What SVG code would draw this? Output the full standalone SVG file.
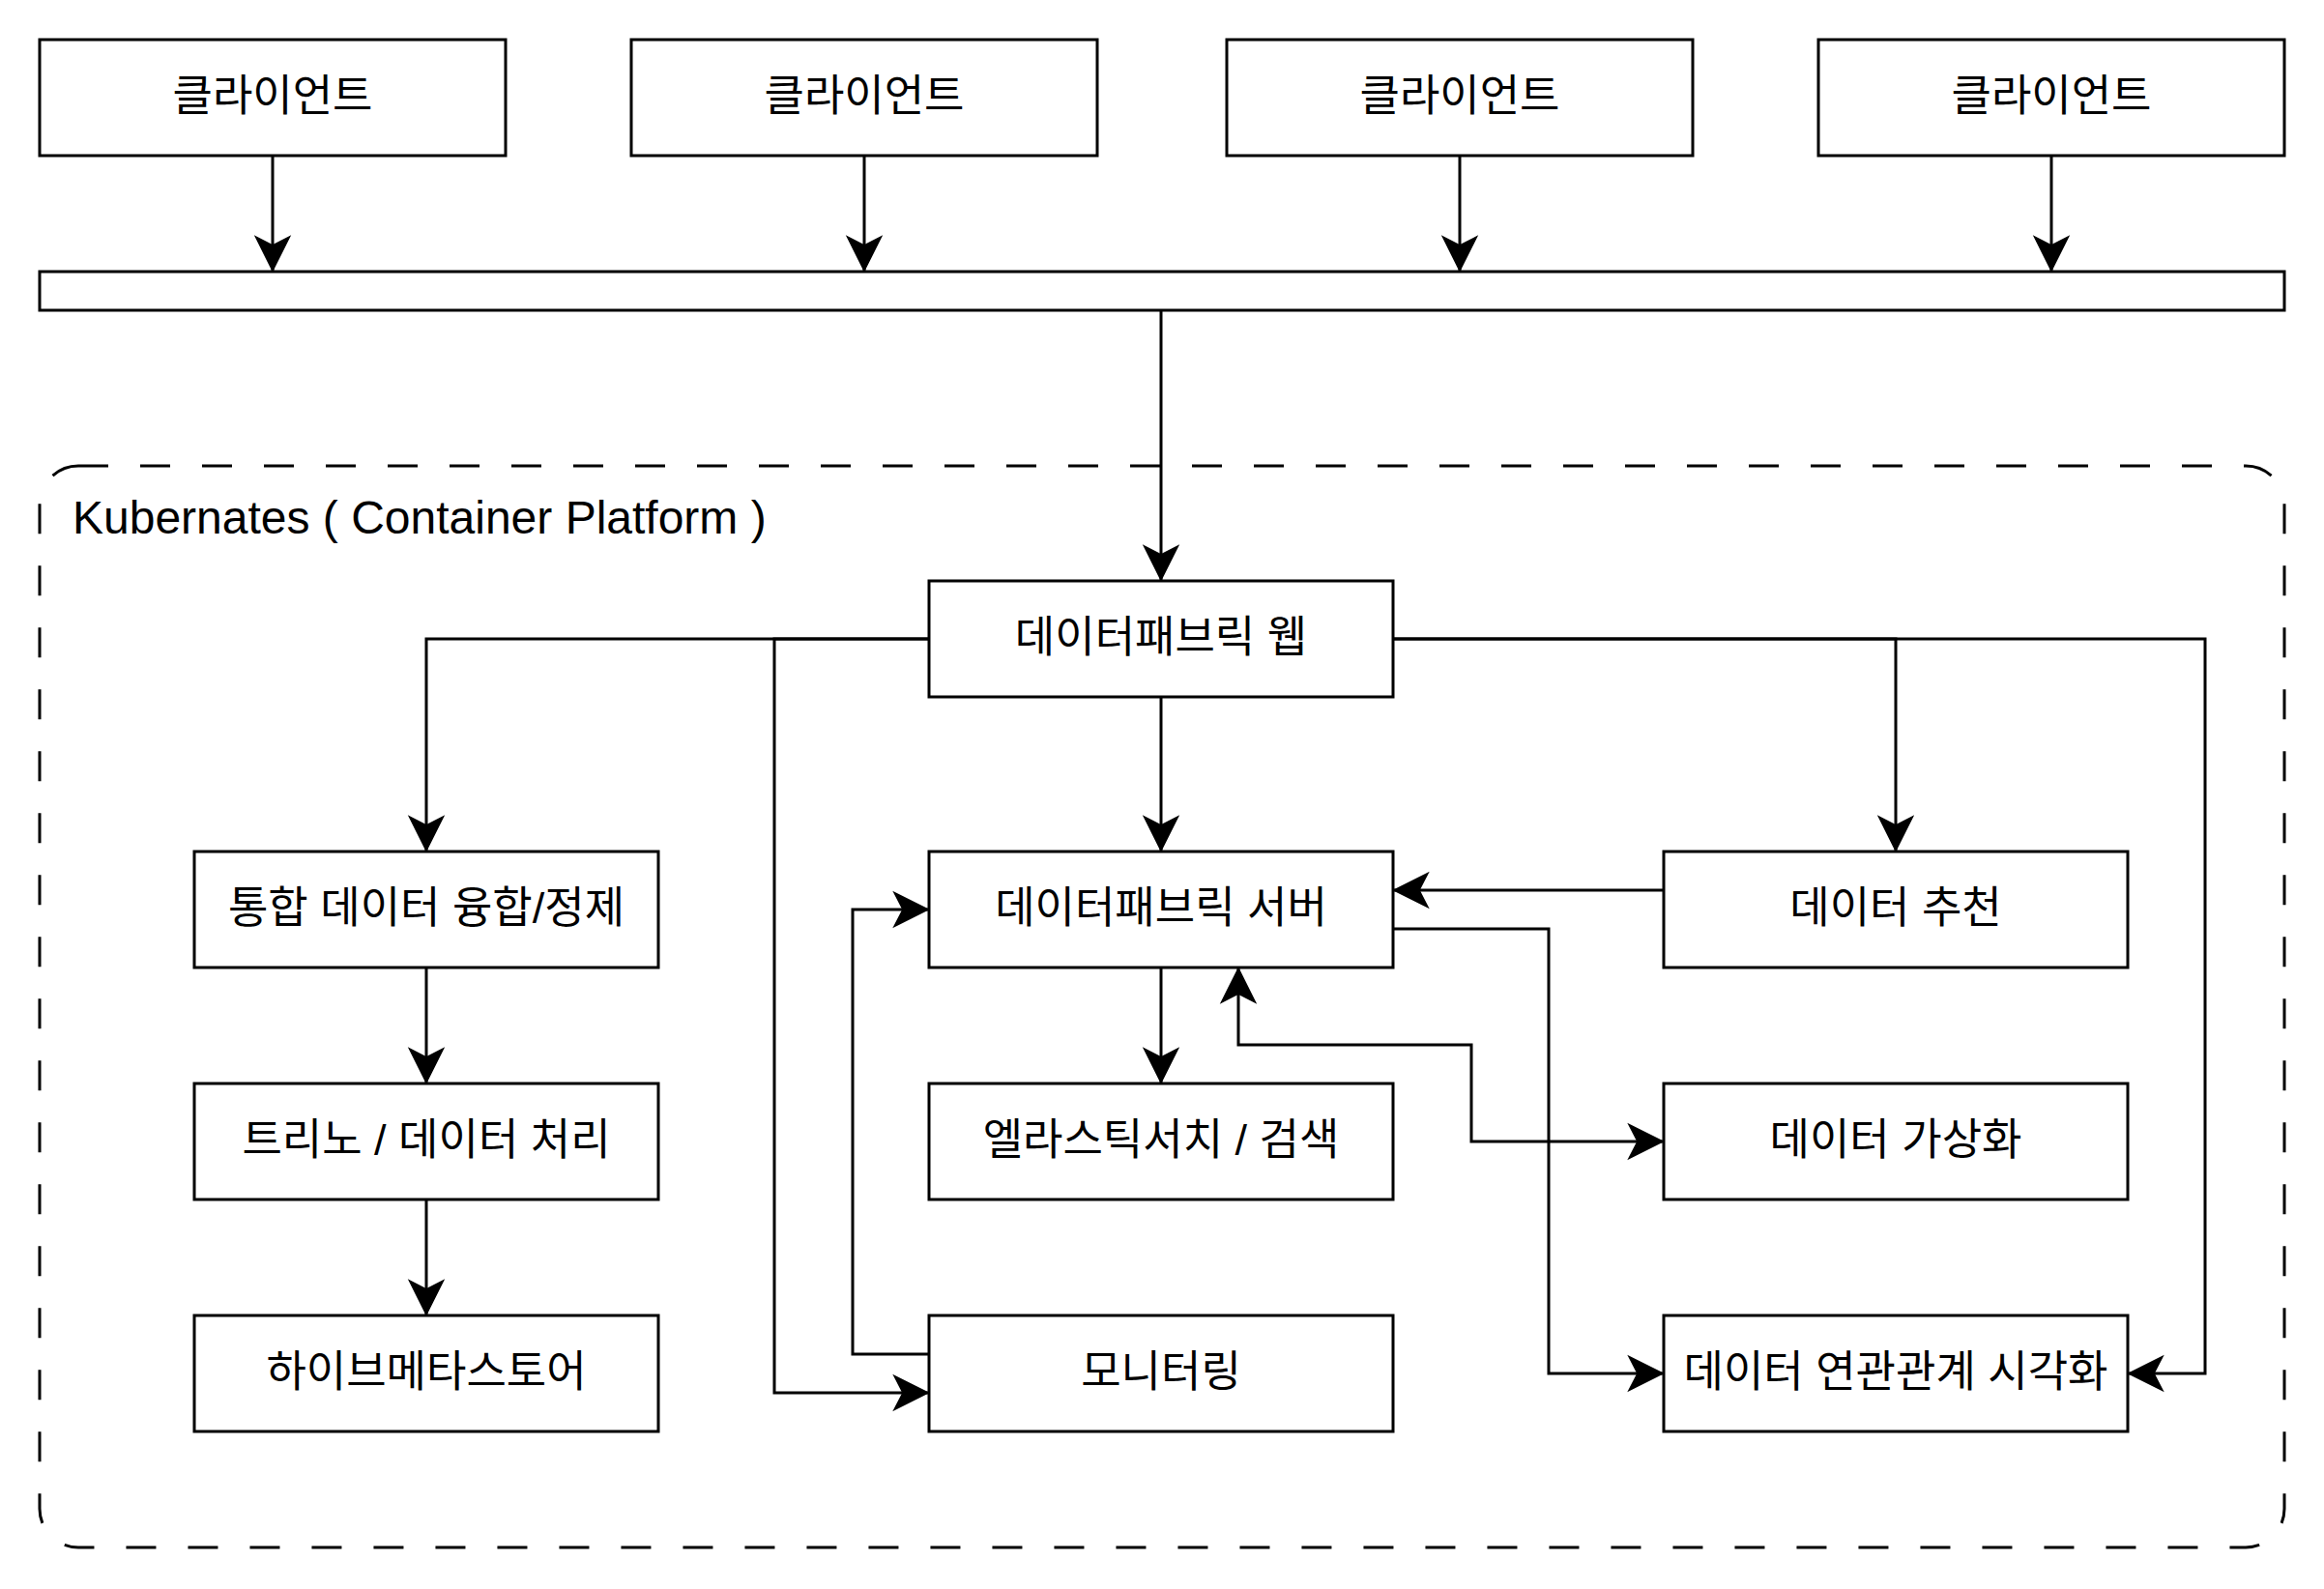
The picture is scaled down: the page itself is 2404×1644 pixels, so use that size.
<svg xmlns="http://www.w3.org/2000/svg" width="2404" height="1644" viewBox="0 0 2404 1644">
<style>
.box{fill:#fff;stroke:#000;stroke-width:3}
.t{font-family:"Liberation Sans","Noto Sans CJK KR",sans-serif;font-size:45px;text-anchor:middle;fill:#000}
.lbl{font-family:"Liberation Sans","Noto Sans CJK KR",sans-serif;font-size:48px;fill:#000}
.c{fill:none;stroke:#000;stroke-width:3}
.a{marker-end:url(#arr)}
.ab{marker-start:url(#arr);marker-end:url(#arr)}
.frame{fill:none;stroke:#000;stroke-width:3;stroke-dasharray:31 33}
</style>
<defs>
<marker id="arr" markerUnits="userSpaceOnUse" markerWidth="40" markerHeight="40" viewBox="-38 -20 40 40" refX="0" refY="0" orient="auto-start-reverse" overflow="visible">
<path d="M0,0 L-35,-17.5 L-26,0 L-35,17.5 Z" fill="#000" stroke="#000" stroke-width="1.5" stroke-linejoin="miter"/>
</marker>
</defs>
<rect width="2404" height="1644" fill="#fff"/>
<g id="container">
<rect class="frame" x="41" y="482" width="2322" height="1119" rx="40" ry="40"/>
<text class="lbl" x="75" y="552">Kubernates ( Container Platform )</text>
</g>
<g id="client1"><rect class="box" x="41" y="41" width="482" height="120"/><text class="t" x="282" y="115">클라이언트</text></g>
<g id="client2"><rect class="box" x="653" y="41" width="482" height="120"/><text class="t" x="894" y="115">클라이언트</text></g>
<g id="client3"><rect class="box" x="1269" y="41" width="482" height="120"/><text class="t" x="1510" y="115">클라이언트</text></g>
<g id="client4"><rect class="box" x="1881" y="41" width="482" height="120"/><text class="t" x="2122" y="115">클라이언트</text></g>
<g id="bar"><rect class="box" x="41" y="281" width="2322" height="40"/></g>
<g id="web"><rect class="box" x="961" y="601" width="480" height="120"/><text class="t" x="1201" y="675">데이터패브릭 웹</text></g>
<g id="fusion"><rect class="box" x="201" y="881" width="480" height="120"/><text class="t" x="441" y="955">통합 데이터 융합/정제</text></g>
<g id="trino"><rect class="box" x="201" y="1121" width="480" height="120"/><text class="t" x="441" y="1195">트리노 / 데이터 처리</text></g>
<g id="hive"><rect class="box" x="201" y="1361" width="480" height="120"/><text class="t" x="441" y="1435">하이브메타스토어</text></g>
<g id="server"><rect class="box" x="961" y="881" width="480" height="120"/><text class="t" x="1201" y="955">데이터패브릭 서버</text></g>
<g id="elastic"><rect class="box" x="961" y="1121" width="480" height="120"/><text class="t" x="1201" y="1195">엘라스틱서치 / 검색</text></g>
<g id="monitor"><rect class="box" x="961" y="1361" width="480" height="120"/><text class="t" x="1201" y="1435">모니터링</text></g>
<g id="recommend"><rect class="box" x="1721" y="881" width="480" height="120"/><text class="t" x="1961" y="955">데이터 추천</text></g>
<g id="virtual"><rect class="box" x="1721" y="1121" width="480" height="120"/><text class="t" x="1961" y="1195">데이터 가상화</text></g>
<g id="visual"><rect class="box" x="1721" y="1361" width="480" height="120"/><text class="t" x="1961" y="1435">데이터 연관관계 시각화</text></g>
<g id="connectors">
<path class="c a" d="M282,161 V280"/>
<path class="c a" d="M894,161 V280"/>
<path class="c a" d="M1510,161 V280"/>
<path class="c a" d="M2122,161 V280"/>
<path class="c a" d="M1201,321 V600"/>
<path class="c a" d="M961,661 H441 V880"/>
<path class="c a" d="M961,661 H801 V1441 H960"/>
<path class="c a" d="M1201,721 V880"/>
<path class="c a" d="M1441,661 H1961 V880"/>
<path class="c a" d="M1441,661 H2281 V1421 H2202"/>
<path class="c a" d="M441,1001 V1120"/>
<path class="c a" d="M441,1241 V1360"/>
<path class="c a" d="M1201,1001 V1120"/>
<path class="c a" d="M961,1401 H882 V941 H960"/>
<path class="c a" d="M1721,921 H1442"/>
<path class="c a" d="M1441,961 H1602 V1421 H1720"/>
<path class="c ab" d="M1281,1002 V1081 H1522 V1181 H1720"/>
</g>
</svg>
